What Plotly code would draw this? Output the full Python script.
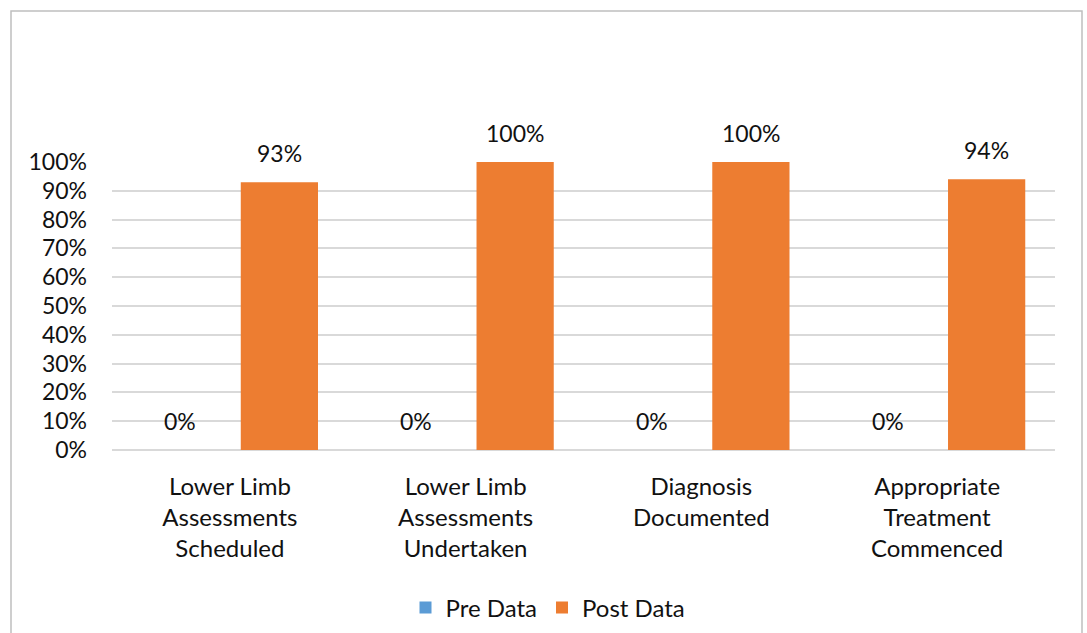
import plotly.graph_objects as go

categories = [
    "Lower Limb<br>Assessments<br>Scheduled",
    "Lower Limb<br>Assessments<br>Undertaken",
    "Diagnosis<br>Documented",
    "Appropriate<br>Treatment<br>Commenced",
]
pre_data = [0.00, 0.00, 0.00, 0.00]
post_data = [0.93, 1.00, 1.00, 0.94]

BLUE = "#5B9BD5"
ORANGE = "#ED7D31"
FONT = "Lato"
TXT = "#111111"

W, H = 1087, 633
L, R, T, B = 112, 32, 162, 183
PW, PH = W - L - R, H - T - B

fig = go.Figure()
fig.add_trace(go.Bar(name="Pre Data", x=categories, y=pre_data,
                     marker=dict(color=BLUE, line=dict(width=0))))
fig.add_trace(go.Bar(name="Post Data", x=categories, y=post_data,
                     marker=dict(color=ORANGE, line=dict(width=0))))

# value labels above each bar
for off, vals in ((-0.21, pre_data), (0.21, post_data)):
    for i, v in enumerate(vals):
        fig.add_annotation(
            x=i + off, y=v, xref="x", yref="y",
            text=f"{v:.0%}", showarrow=False,
            yanchor="middle", yshift=29,
            font=dict(family=FONT, size=23, color=TXT),
        )

# outer chart border
def px_x(p):
    return (p - L) / PW

def px_y(p):
    return (H - B - p) / PH

fig.add_shape(
    type="rect", xref="paper", yref="paper",
    x0=px_x(11), x1=px_x(1082), y0=px_y(660), y1=px_y(11),
    line=dict(color="#bfbfbf", width=1.5), fillcolor="rgba(0,0,0,0)",
    layer="below",
)

fig.update_layout(
    width=W, height=H,
    margin=dict(l=L, r=R, t=T, b=B, autoexpand=False),
    paper_bgcolor="white", plot_bgcolor="white",
    barmode="group", bargap=0.16, bargroupgap=0.22,
    font=dict(family=FONT, size=23, color=TXT),
    showlegend=True,
    legend=dict(
        orientation="h", x=px_x(548), xanchor="center",
        y=px_y(608), yanchor="middle",
        font=dict(family=FONT, size=24, color=TXT),
        itemwidth=30, traceorder="normal",
    ),
    xaxis=dict(
        showgrid=False, zeroline=False, showline=False, automargin=False,
        ticks="", ticklabelstandoff=20,
        tickfont=dict(family=FONT, size=24, color=TXT),
    ),
    yaxis=dict(
        range=[0, 1], tickvals=[i / 10 for i in range(11)],
        tickformat=".0%", showgrid=True, gridcolor="#d9d9d9", gridwidth=1.5,
        zeroline=True, zerolinecolor="#d9d9d9", zerolinewidth=1.5,
        showline=False, ticks="", ticklabelstandoff=24, automargin=False,
        tickfont=dict(family=FONT, size=23, color=TXT),
    ),
)

fig.write_html("out.html")
